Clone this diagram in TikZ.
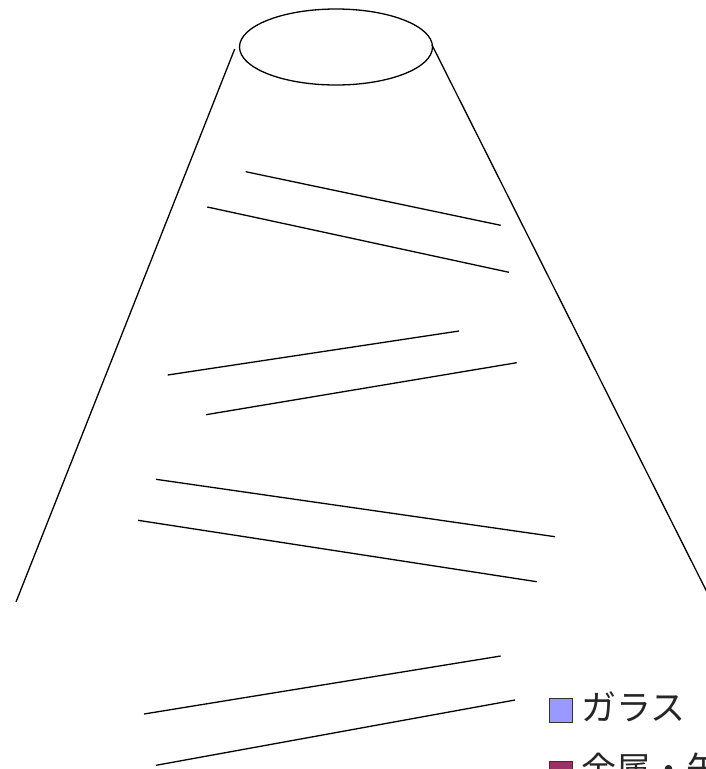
\documentclass[tikz,border=0pt]{standalone}
\usepackage{fontspec}
\newfontfamily\jpfont{Noto Sans CJK JP}
\usetikzlibrary{shapes.geometric}
\definecolor{glassblue}{HTML}{9999FF}
\definecolor{metalred}{HTML}{993366}
\tikzset{
  stroke/.style={line width=1.3pt, black},
  legendbox/.style={draw=black!80, line width=0.9pt, minimum width=23pt, minimum height=24pt, inner sep=0pt, anchor=north west},
  legendtext/.style={font=\jpfont\fontsize{35}{40}\selectfont, inner sep=0pt, anchor=west, text=black!85}
}
\begin{document}
\begin{tikzpicture}[x=1pt,y=-1pt]
\useasboundingbox (0,0) rectangle (706,769);
\clip (0,0) rectangle (706,769);
\fill[white] (0,0) rectangle (706,769);
% top opening of the cone
\node[ellipse, draw, line width=1.3pt, minimum width=193pt, minimum height=76pt, inner sep=0pt] (top) at (336,47) {};
\coordinate (lt) at (234.7,49);
\coordinate (lb) at (16,602);
\coordinate (rt) at (432,45);
\coordinate (rb) at (720,618);
\draw[stroke] (lt) -- (lb);
\draw[stroke] (rt) -- (rb);
% stripes
\coordinate (a1) at (245.7,171.7); \coordinate (a2) at (500.7,225.3);
\coordinate (b1) at (207.3,207);   \coordinate (b2) at (509,272.3);
\coordinate (c1) at (167.7,375);   \coordinate (c2) at (459,331);
\coordinate (d1) at (206,414.7);   \coordinate (d2) at (516.7,362.7);
\coordinate (e1) at (156,479.3);   \coordinate (e2) at (555,536.7);
\coordinate (f1) at (138,520.3);   \coordinate (f2) at (536.7,581.7);
\coordinate (g1) at (144,714);     \coordinate (g2) at (500.7,656);
\coordinate (h1) at (156,765.3);   \coordinate (h2) at (515,700);
\draw[stroke] (a1) -- (a2);
\draw[stroke] (b1) -- (b2);
\draw[stroke] (c1) -- (c2);
\draw[stroke] (d1) -- (d2);
\draw[stroke] (e1) -- (e2);
\draw[stroke] (f1) -- (f2);
\draw[stroke] (g1) -- (g2);
\draw[stroke] (h1) -- (h2);
% legend
\node[legendbox, fill=glassblue] (k1) at (549,698) {};
\node[legendtext] (t1) at (581,707) {ガラス};
\node[legendbox, fill=metalred] (k2) at (549,761) {};
\node[legendtext] (t2) at (581,769) {金属・缶};
\end{tikzpicture}
\end{document}
